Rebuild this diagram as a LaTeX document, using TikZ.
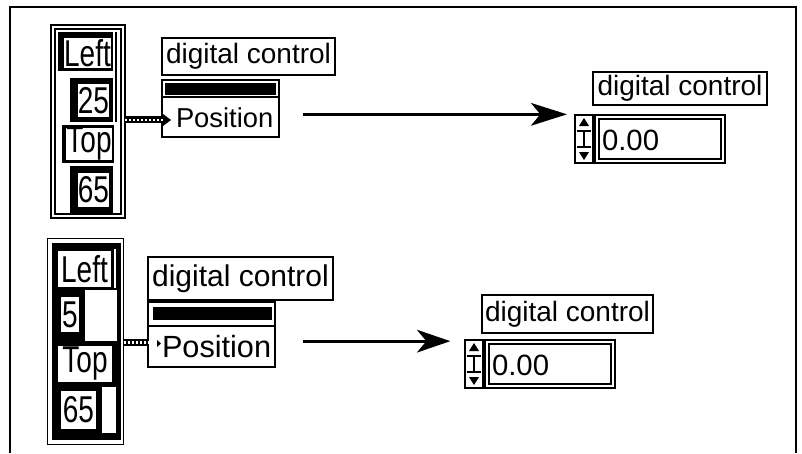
\documentclass[tikz,border=0pt]{standalone}
\usepackage{fontspec}
\setmainfont{Liberation Sans}
\usetikzlibrary{fit,calc,arrows.meta}
\newcommand{\clt}[1]{\scalebox{0.75}[1]{\fontsize{28}{28}\selectfont #1}}
\begin{document}
\begin{tikzpicture}[x=0.75pt,y=0.75pt,
  every node/.style={inner sep=0pt,outer sep=0pt},
  box/.style={draw=black,line width=1.2pt,fill=white},
  wht/.style={draw=black,line width=0.8pt,fill=white},
  ft/.style={font=\fontsize{21}{21}\selectfont},
  ftb/.style={font=\fontsize{22.5}{22.5}\selectfont},
  txt/.style={anchor=west,font=\fontsize{20.5}{20.5}\selectfont},
  txtb/.style={anchor=west,font=\fontsize{23}{23}\selectfont},
  arr/.style={line width=2.2pt,-{Stealth[length=27pt,width=17pt,inset=7pt]}},
  wireo/.style={line width=5pt,black},
  wirei/.style={line width=1.6pt,white,dash pattern=on 1.5pt off 1.5pt}]
\useasboundingbox (0,0) rectangle (802,-453);
% outer frame
\draw[line width=1.5pt] (10,-453) -- (10,-7) -- (796,-7) -- (796,-453);

%%%%%%%%%%%%%%%% TOP ROW
% cluster constant
\node[box,fit={(51,-25) (125,-218)}] (c1) {};
\draw[line width=1.2pt] (55,-29) rectangle (121,-214);
\draw[line width=1pt] (116,-32) -- (116,-122);
\fill (58,-32) rectangle (113,-71);
\node[wht,fit={(63,-37) (112,-69)}] (c1left) {};
\node (t1) at (c1left.center) {\clt{Left}};
\fill (70,-78) rectangle (113,-122);
\node[wht,fit={(77,-83) (110,-118)}] (c1v1) {};
\node (t2) at (c1v1.center) {\clt{25}};
\fill (62,-125) rectangle (114,-163);
\node[wht,fit={(65,-127) (113,-161)}] (c1top) {};
\node (t3) at (c1top.center) {\clt{Top}};
\fill (70,-166) rectangle (113,-214);
\node[wht,fit={(77,-172) (110,-208)}] (c1v2) {};
\node (t4) at (c1v2.center) {\clt{65}};

% property node
\node[box,fit={(162,-38) (335,-75)}] (pl1) {};
\node[ft] (t5) at (pl1.center) {digital control};
\node[box,fit={(162,-80) (279,-137)}] (pb1) {};
\fill (165,-83) rectangle (276,-95);
\draw[line width=1.2pt] (162,-97) -- (279,-97);
\node[fit={(162,-97) (279,-137)}] (row1) {};
\node[txt] (pos1) at (176,-118) {Position};

% wire
\draw[wireo] ([yshift=-2pt]c1.east |- row1.west) -- ([yshift=-2pt,xshift=1pt]row1.west);
\draw[wirei] ([yshift=-2pt]c1.east |- row1.west) -- ([yshift=-2pt,xshift=1pt]row1.west);
\fill (163,-114) -- (171,-120) -- (163,-126) -- cycle;

% indicator
\node[box,fit={(593,-72) (767,-105)}] (il1) {};
\node[ft] (t6) at (il1.center) {digital control};
\node[box,fit={(595,-115) (725,-163)}] (ind1) {};
\draw[line width=0.8pt] (599,-119) rectangle (721,-159);
\node[txt,font=\fontsize{22}{22}\selectfont] (v1) at (602,-140) {0.00};
\node[box,line width=1pt,fit={(575,-115) (593,-163)}] (inc1) {};
\fill (584,-118) -- (589,-126) -- (579,-126) -- cycle;
\fill (584,-160) -- (589,-152) -- (579,-152) -- cycle;
\draw[line width=1pt] (577,-131) -- (591,-131);
\draw[line width=1pt] (577,-147) -- (591,-147);
\draw[line width=1.5pt] (584,-132) -- (584,-146);

% arrow
\draw[arr] ([xshift=18pt,yshift=2pt]row1.east) -- ([xshift=-6pt,yshift=2pt]row1.east -| inc1.west);

%%%%%%%%%%%%%%%% BOTTOM ROW
% cluster constant
\node[box,fit={(47.5,-238.5) (123.5,-444.5)}] (c2) {};
\fill (52,-243) rectangle (121,-440);
\node[wht,fit={(57,-250) (112,-288)}] (c2left) {};
\node (t7) at (c2left.center) {\clt{Left}};
\fill[white] (113.5,-249) rectangle (116,-288);
\fill[white] (85,-290) rectangle (117,-341);
\node[wht,fit={(60,-296) (80,-333)}] (c2v1) {};
\node (t8) at (c2v1.center) {\clt{5}};
\node[wht,fit={(57,-345) (113,-383)}] (c2top) {};
\node (t9) at (c2top.center) {\clt{Top}};
\node[wht,fit={(60,-390) (97,-430)}] (c2v2) {};
\node (t10) at (c2v2.center) {\clt{65}};
\fill[white] (102,-387) rectangle (116,-433);

% property node
\node[box,fit={(148,-257) (333,-300)}] (pl2) {};
\node[ftb] (t11) at (pl2.center) {digital control};
\node[box,fit={(148,-302) (275,-367)}] (pb2) {};
\fill (153,-307) rectangle (272,-320);
\draw[line width=1.2pt] (148,-326) -- (275,-326);
\node[fit={(148,-326) (275,-367)}] (row2) {};
\node[txtb] (pos2) at (162,-347) {Position};
\fill (157,-340) -- (161,-343.5) -- (157,-347) -- cycle;

% wire
\draw[wireo] ([yshift=3pt]c2.east |- row2.west) -- ([yshift=3pt]row2.west);
\draw[wirei] ([yshift=3pt]c2.east |- row2.west) -- ([yshift=3pt]row2.west);

% indicator
\node[box,fit={(482,-295) (653,-333)}] (il2) {};
\node[ft] (t12) at (il2.center) {digital control};
\node[box,fit={(485,-340) (615,-388)}] (ind2) {};
\draw[line width=0.8pt] (489,-344) rectangle (611,-384);
\node[txt,font=\fontsize{22}{22}\selectfont] (v2) at (492,-365) {0.00};
\node[box,line width=1pt,fit={(465,-340) (483,-388)}] (inc2) {};
\fill (474,-343) -- (479,-351) -- (469,-351) -- cycle;
\fill (474,-385) -- (479,-377) -- (469,-377) -- cycle;
\draw[line width=1pt] (467,-356) -- (481,-356);
\draw[line width=1pt] (467,-372) -- (481,-372);
\draw[line width=1.5pt] (474,-357) -- (474,-371);

% arrow
\draw[arr,-{Stealth[length=25pt,width=17pt,inset=7pt]}] ([xshift=21pt,yshift=4pt]row2.east) -- ([xshift=-11pt,yshift=4pt]row2.east -| inc2.west);
\end{tikzpicture}
\end{document}
